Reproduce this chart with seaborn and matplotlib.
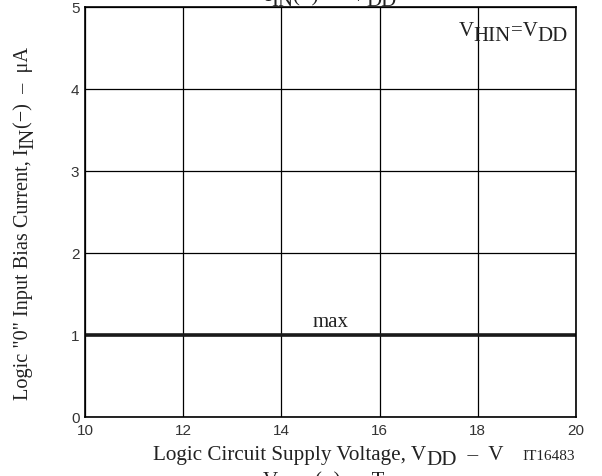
import matplotlib
matplotlib.use('Agg')
import matplotlib.pyplot as plt
import seaborn as sns
import pandas as pd

# ---- data ----
vdd_v = [10, 20]
iin_max_ua = [1.0, 1.0]
x_ticks = [10, 12, 14, 16, 18, 20]
y_ticks = [0, 1, 2, 3, 4, 5]
curve_label = "max"
curve_label_pos = (15.0, 1.11)
fig_id = "IT16483"

SERIF = 'Liberation Serif'
sns.set_theme(style='white')
plt.rcParams['font.family'] = ['Liberation Sans', 'DejaVu Sans']

W, H = 602, 477
fig = plt.figure(figsize=(W / 100, H / 100), dpi=100)
ax = fig.add_axes([85 / W, 1 - 418 / H, (576 - 85) / W, (418 - 8) / H])

df = pd.DataFrame({'vdd': vdd_v, 'iin': iin_max_ua})
sns.lineplot(data=df, x='vdd', y='iin', color='#1a1a1a', linewidth=2.6, ax=ax)
ax.set_xlim(10, 20)
ax.set_ylim(0, 5)
ax.set_xticks(x_ticks)
ax.set_yticks(y_ticks)
ax.set_xticklabels([str(v) for v in x_ticks])
ax.set_yticklabels([str(v) for v in y_ticks])
ax.grid(True, color='black', linewidth=0.9)
ax.set_axisbelow(True)
ax.tick_params(length=0, labelsize=11, pad=4, colors='#333333')
ax.set_xlabel('')
ax.set_ylabel('')
for s in ax.spines.values():
    s.set_visible(True)
    s.set_color('black')
    s.set_linewidth(1.2)

ax.text(curve_label_pos[0], curve_label_pos[1], curve_label, family=SERIF,
        fontsize=15, ha='center', va='baseline', color='#222222')

r = fig.canvas.get_renderer()


def measure(s, size):
    t = fig.text(0, 0, 'x' + s + 'x', fontsize=size, family=SERIF)
    t2 = fig.text(0, 0, 'xx', fontsize=size, family=SERIF)
    w = t.get_window_extent(r).width - t2.get_window_extent(r).width
    t.remove()
    t2.remove()
    return w


def rich(parts, x, y, size, align='center', rotation=0):
    widths = [measure(s, size) for s, _ in parts]
    total = sum(widths)
    if align == 'center':
        start = -total / 2
    elif align == 'right':
        start = -total
    else:
        start = 0
    pos = start
    for (s, dy), w in zip(parts, widths):
        if rotation == 0:
            px, py = x + pos, y + dy
        else:
            px, py = x - dy, y + pos
        fig.text(px / W, py / H, s, fontsize=size, family=SERIF, color='#222222',
                 ha='left', va='baseline', rotation=rotation, rotation_mode='anchor')
        pos += w


# clipped title at top
rich([("I", 0), ("IN", -5), ("(−)  −  V", 0), ("DD", -5)], 330, H - 1, 15)
# x label
rich([("Logic Circuit Supply Voltage, V", 0), ("DD", -5), ("  –  V", 0)], 328, H - 460, 15.2)
fig.text(522 / W, (H - 460) / H, fig_id, fontsize=11, family=SERIF, color='#222222',
         ha='left', va='baseline')
# clipped text at bottom
rich([("V", 0), ("HIN", -5), ("(−)  –  T", 0), ("a", -5)], 328, H - 486, 15)
# y label
rich([('Logic "0" Input Bias Current, I', 0), ("IN", -5), ("(−)  –  μA", 0)], 28, 253.5, 14.6,
     rotation=90)
# condition
rich([("V", 0), ("HIN", -5), ("=V", 0), ("DD", -5)], 568, H - 36, 15, align='right')

fig.savefig('out.png', dpi=100)
